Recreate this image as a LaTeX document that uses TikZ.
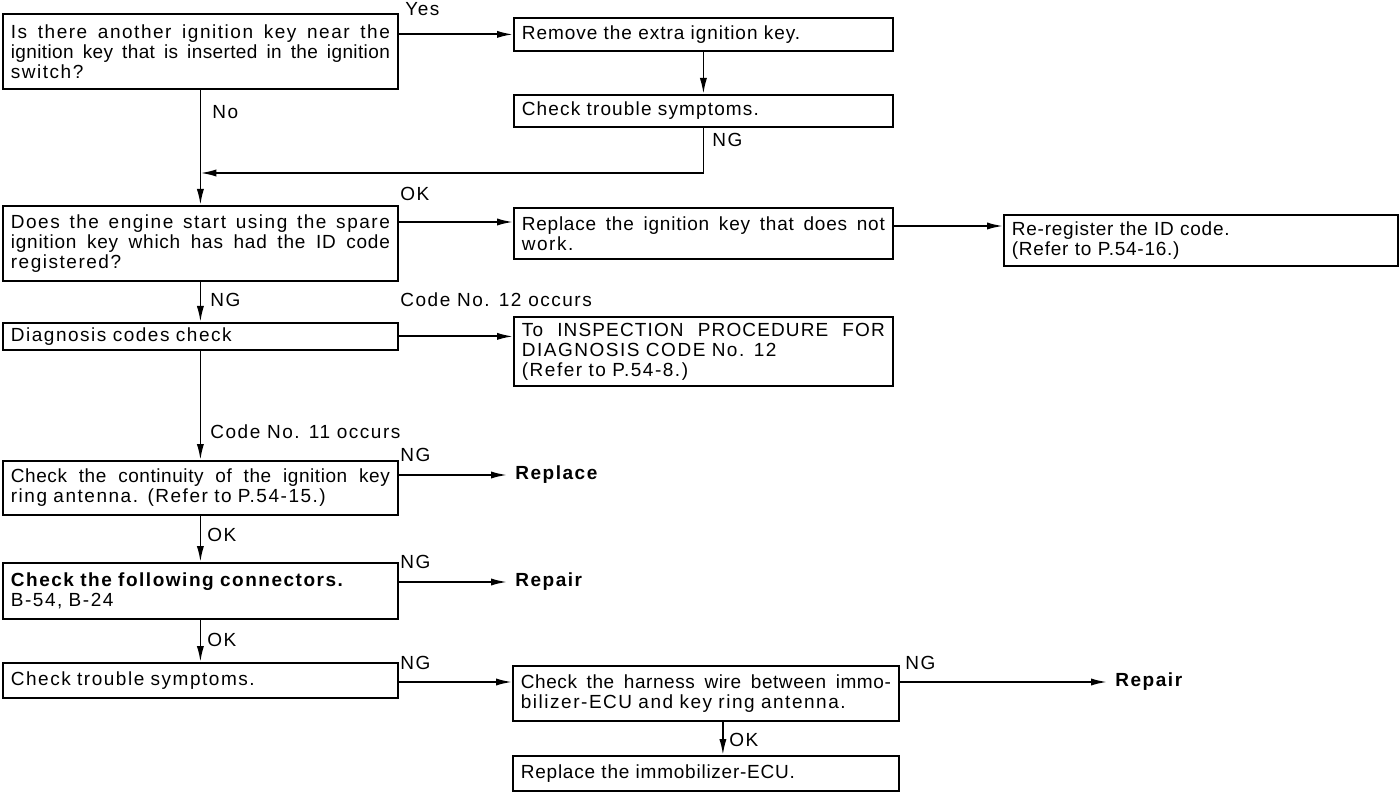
\documentclass[tikz,border=0pt]{standalone}
\usepackage{fontspec}
\setmainfont{Liberation Sans}[LetterSpace=8]
\usetikzlibrary{arrows.meta,calc}
\setlength\parindent{0pt}
\newcommand\jl[3]{{\addfontfeature{LetterSpace=#2}\spaceskip=0pt\xspaceskip=0pt\makebox[#1][s]{#3}}}
\newcommand\lsp[1]{\addfontfeature{LetterSpace=#1}}
\begin{document}
\begin{tikzpicture}[x=0.5pt,y=-0.5pt,
  bx/.style={draw, line width=0.9pt, anchor=north west, inner xsep=4pt, inner ysep=2pt, align=left, font=\fontsize{9.5}{10}\selectfont},
  lbl/.style={inner sep=0pt, anchor=west, font=\fontsize{9.5}{10}\selectfont},
  bl/.style={inner sep=0pt, anchor=west, font=\fontsize{9.5}{10}\selectfont\bfseries},
  ln/.style={line width=0.9pt},
  arr/.style={ln, -{Latex[length=8pt,width=3.6pt]}},
]
\useasboundingbox (0,0) rectangle (1400,806);

% boxes
\node[bx, minimum width=197.5pt, minimum height=37.5pt, text width=189.5pt] (q1) at (2,13)
  {\jl{189.5pt}{8}{Is there another ignition key near the}\\\jl{189.5pt}{2}{ignition key that is inserted in the ignition}\\switch?};
\node[bx, minimum width=189.5pt, minimum height=16.5pt, text width=181.5pt] (rm) at (513,17)
  {\lsp{5}Remove the extra ignition key.};
\node[bx, minimum width=189.5pt, minimum height=16pt, text width=181.5pt] (ct1) at (513,94)
  {\lsp{6}Check trouble symptoms.};
\node[bx, minimum width=197.5pt, minimum height=37.5pt, text width=189.5pt] (q2) at (2,205)
  {\jl{189.5pt}{8}{Does the engine start using the spare}\\\jl{189.5pt}{4}{ignition key which has had the ID code}\\registered?};
\node[bx, minimum width=189.5pt, minimum height=25.5pt, text width=181.5pt] (rk) at (513,207)
  {\jl{181.5pt}{4}{Replace the ignition key that does not}\\work.};
\node[bx, minimum width=197pt, minimum height=25.5pt, text width=189pt] (rr) at (1003,214)
  {\lsp{4}Re-register the ID code.\\(Refer to P.54-16.)};
\node[bx, minimum width=197.5pt, minimum height=13.5pt, text width=189.5pt] (dg) at (2,322)
  {Diagnosis codes check};
\node[bx, minimum width=189.5pt, minimum height=34.5pt, text width=181.5pt] (in) at (513,316)
  {\jl{181.5pt}{6}{To INSPECTION PROCEDURE FOR}\\DIAGNOSIS CODE No. 12\\(Refer to P.54-8.)};
\node[bx, minimum width=197.5pt, minimum height=27pt, text width=189.5pt] (cn) at (2,460)
  {\jl{189.5pt}{3}{Check the continuity of the ignition key}\\ring antenna. (Refer to P.54-15.)};
\node[bx, minimum width=197.5pt, minimum height=28pt, text width=189.5pt] (cc) at (2,562)
  {\textbf{Check the following connectors.}\\B-54, B-24};
\node[bx, minimum width=197.5pt, minimum height=17.5pt, text width=189.5pt] (ct2) at (2,662)
  {Check trouble symptoms.};
\node[bx, minimum width=193pt, minimum height=27.5pt, text width=185pt] (hw) at (512,665)
  {\jl{185pt}{3}{Check the harness wire between immo-}\\bilizer-ECU and key ring antenna.};
\node[bx, minimum width=193pt, minimum height=17.5pt, text width=185pt] (re) at (512,755)
  {\lsp{4}Replace the immobilizer-ECU.};

% end texts
\node[bl] (rp1) at (515,475) {Replace};
\node[bl] (rp2) at (515,582) {Repair};
\node[bl] (rp3) at (1115,682) {Repair};

% helper coordinates
\coordinate (y173) at (0,173);
\coordinate (j1) at (q1.south |- y173);
\coordinate (y222) at (0,222);
\coordinate (y226) at (0,226);
\coordinate (y682) at (0,682);

% connectors
\draw[arr] (q1.east |- rm.west) -- (rm.west);
\node[lbl] (lyes) at (405,9) {Yes};
\draw[arr] (rm.south) -- (ct1.north);
\draw[arr] (ct1.south) |- (j1);
\node[lbl] (lng1) at (712,140) {NG};
\draw[arr] (q1.south) -- (q2.north);
\node[lbl] (lno) at (212,112) {No};

\draw[arr] (q2.east |- y222) -- (rk.west |- y222);
\node[lbl] (lok1) at (400,194) {OK};
\draw[arr] (rk.east |- y226) -- (rr.west |- y226);

\draw[arr] (q2.south) -- (dg.north);
\node[lbl] (lng2) at (210,300) {NG};
\draw[arr] (dg.east) -- (dg.east -| in.west);
\node[lbl] (lc12) at (400,300) {Code No. 12 occurs};

\draw[arr] (dg.south) -- (cn.north);
\node[lbl] (lc11) at (210,432) {Code No. 11 occurs};

\draw[arr, shorten >=4pt] (cn.east |- rp1.west) -- (rp1.west);
\node[lbl] (lng3) at (400,455) {NG};

\draw[arr] (cn.south) -- (cc.north);
\node[lbl] (lok2) at (207,535) {OK};

\draw[arr, shorten >=4pt] (cc.east |- rp2.west) -- (rp2.west);
\node[lbl] (lng4) at (400,562) {NG};

\draw[arr] (cc.south) -- (ct2.north);
\node[lbl] (lok3) at (207,640) {OK};

\draw[arr] (ct2.east |- y682) -- (hw.west |- y682);
\node[lbl] (lng5) at (400,663) {NG};

\draw[arr, shorten >=4pt] (hw.east |- rp3.west) -- (rp3.west);
\node[lbl] (lng6) at (905,663) {NG};

\draw[arr] ([xshift=8.5pt]hw.south) -- ([xshift=8.5pt]re.north);
\node[lbl] (lok4) at (729,740) {OK};
\end{tikzpicture}
\end{document}
